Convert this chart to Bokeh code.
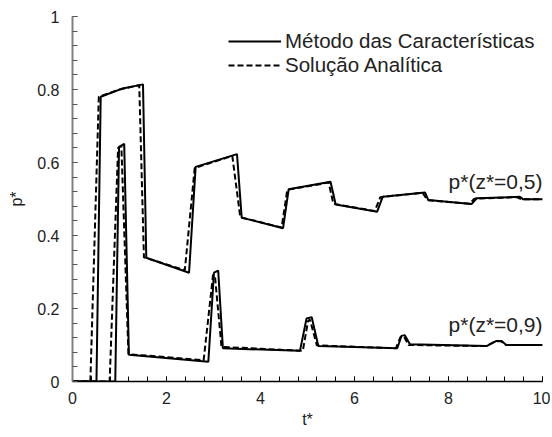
from bokeh.plotting import figure
from bokeh.models import FixedTicker, Legend, LegendItem, Label
from bokeh.embed import file_html
from bokeh.resources import INLINE
import numpy as np

# z*=0.5, Method of characteristics (solid)
t_mc_05 = [0, 0.51, 0.60, 1.07, 1.50, 1.57, 2.48, 2.62, 3.50, 3.60, 4.48, 4.60, 5.49, 5.60,
           6.48, 6.60, 7.50, 7.57, 8.49, 8.60, 9.52, 9.59, 10]
p_mc_05 = [0, 0, 0.780, 0.803, 0.814, 0.339, 0.298, 0.588, 0.623, 0.449, 0.420, 0.527, 0.547, 0.485,
           0.465, 0.506, 0.518, 0.497, 0.486, 0.502, 0.506, 0.499, 0.499]
# z*=0.5, analytic (dashed)
t_an_05 = [0, 0.38, 0.56, 1.0, 1.42, 1.52, 2.39, 2.60, 3.40, 3.57, 4.45, 4.57, 5.45, 5.55,
           6.43, 6.55, 7.45, 7.55, 8.45, 8.55, 9.45, 9.55, 10]
p_an_05 = [0, 0, 0.780, 0.800, 0.812, 0.340, 0.305, 0.585, 0.618, 0.450, 0.422, 0.525, 0.545, 0.487,
           0.467, 0.505, 0.517, 0.497, 0.487, 0.501, 0.505, 0.499, 0.499]
# z*=0.9, Method of characteristics (solid)
t_mc_09 = [0, 0.91, 0.99, 1.10, 1.20, 2.89, 3.01, 3.10, 3.20, 4.84, 4.98, 5.09, 5.23,
           6.91, 7.00, 7.07, 7.18, 8.81, 9.02, 9.13, 9.23, 10]
p_mc_09 = [0, 0, 0.643, 0.651, 0.073, 0.054, 0.298, 0.304, 0.091, 0.084, 0.173, 0.176, 0.097,
           0.091, 0.125, 0.127, 0.102, 0.097, 0.111, 0.111, 0.100, 0.100]
# z*=0.9, analytic (dashed)
t_an_09 = [0, 0.79, 0.97, 1.04, 1.19, 2.79, 2.99, 3.03, 3.17, 4.90, 5.01, 5.05, 5.20,
           6.88, 6.98, 7.05, 7.15, 8.80, 9.00, 9.12, 9.22, 10]
p_an_09 = [0, 0, 0.640, 0.645, 0.075, 0.058, 0.292, 0.290, 0.095, 0.084, 0.165, 0.170, 0.099,
           0.091, 0.122, 0.124, 0.100, 0.097, 0.110, 0.110, 0.100, 0.100]

x_ticks = [0, 2, 4, 6, 8, 10]
x_tick_labels = ["0", "2", "4", "6", "8", "10"]
y_ticks = [0, 0.2, 0.4, 0.6, 0.8, 1.0]
y_tick_labels = ["0", "0.2", "0.4", "0.6", "0.8", "1"]

series_names = ["Método das Características", "Solução Analítica"]
curve_labels = ["p*(z*=0,5)", "p*(z*=0,9)"]

FONT = "Liberation Sans"

p = figure(width=550, height=434, output_backend="svg", toolbar_location=None,
           x_range=(0, 10), y_range=(0, 1),
           min_border_left=72, min_border_right=8, min_border_top=16, min_border_bottom=53)
p.outline_line_color = None
p.xgrid.visible = False
p.ygrid.visible = False
p.background_fill_color = "white"
p.border_fill_color = "white"

r1 = p.line(t_mc_05, p_mc_05, line_color="black", line_width=2)
r2 = p.line(t_an_05, p_an_05, line_color="black", line_width=2, line_dash="6 3")
p.line(t_mc_09, p_mc_09, line_color="black", line_width=2)
p.line(t_an_09, p_an_09, line_color="black", line_width=2, line_dash="6 3")

# axes
p.xaxis.ticker = FixedTicker(ticks=x_ticks, minor_ticks=list(np.round(np.arange(0, 10.001, 0.4), 3)))
p.xaxis.major_label_overrides = {t: l for t, l in zip(x_ticks, x_tick_labels)}
p.yaxis.ticker = FixedTicker(ticks=y_ticks, minor_ticks=list(np.round(np.arange(0, 1.0001, 0.04), 3)))
p.yaxis.major_label_overrides = {t: l for t, l in zip(y_ticks, y_tick_labels)}

for ax in (p.xaxis, p.yaxis):
    ax.major_tick_in = 5
    ax.major_tick_out = 0
    ax.minor_tick_in = 5
    ax.minor_tick_out = 0
    ax.major_label_text_font = FONT
    ax.major_label_text_font_size = "16px"
    ax.major_label_text_color = "#222222"
    ax.axis_label_text_font = FONT
    ax.axis_label_text_font_size = "16px"
    ax.axis_label_text_font_style = "normal"
    ax.axis_label_text_color = "#222222"

p.xaxis.axis_line_color = "black"
p.xaxis.axis_line_width = 1.5
p.xaxis.major_tick_line_color = "black"
p.xaxis.minor_tick_line_color = "black"
p.xaxis.major_label_standoff = 10
p.xaxis.axis_label = "t*"
p.xaxis.axis_label_standoff = 4

p.yaxis.axis_line_color = "#808080"
p.yaxis.axis_line_width = 2
p.yaxis.major_tick_line_color = "#555555"
p.yaxis.minor_tick_line_color = "#555555"
p.yaxis.major_label_standoff = 13
p.yaxis.axis_label = "p*"
p.yaxis.axis_label_standoff = 9

legend = Legend(items=[LegendItem(label=series_names[0], renderers=[r1]),
                       LegendItem(label=series_names[1], renderers=[r2])],
                location=(156, 304), orientation="vertical",
                label_text_font=FONT, label_text_font_size="20.5px", label_text_color="#222222",
                glyph_width=53, glyph_height=20, label_height=20, label_standoff=4,
                spacing=0, padding=0, margin=0,
                border_line_alpha=0, background_fill_alpha=0)
p.add_layout(legend)

p.add_layout(Label(x=10, y=0.549, text=curve_labels[0], text_align="right", text_baseline="middle",
                   text_font=FONT, text_font_size="21px", text_color="#222222"))
p.add_layout(Label(x=10, y=0.155, text=curve_labels[1], text_align="right", text_baseline="middle",
                   text_font=FONT, text_font_size="21px", text_color="#222222"))

open("out.html", "w").write(file_html(p, INLINE))
